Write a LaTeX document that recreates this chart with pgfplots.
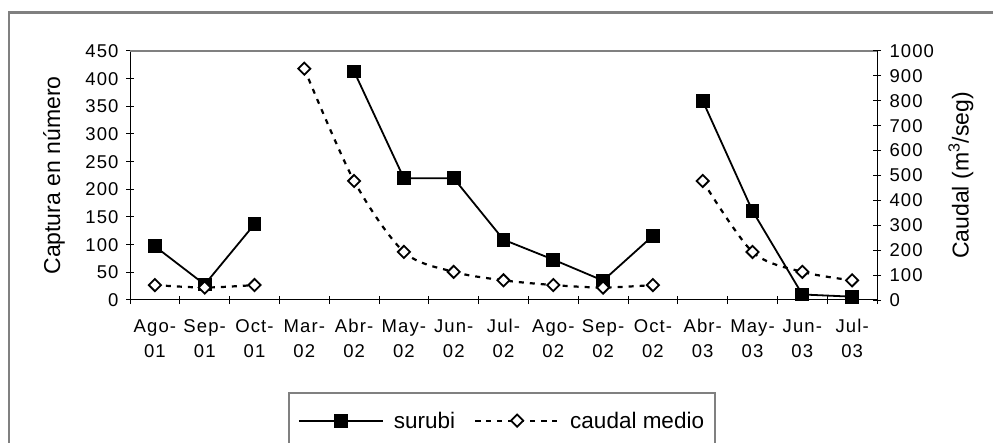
\documentclass[border=0pt]{standalone}
\usepackage{pgfplots}
\pgfplotsset{compat=1.18}
\usepackage{fontspec}
\setmainfont{Liberation Sans}
\newfontfamily\tickfont[LetterSpace=6]{Liberation Sans}
\definecolor{framegray}{RGB}{128,128,128}
\pgfplotsset{
  surubistyle/.style={black, solid, line width=1.8pt, mark=square*, mark size=6pt, mark options={solid, fill=black}},
  caudalstyle/.style={black, line width=2.2pt, dash pattern=on 5pt off 6pt, smooth, tension=0.5,
     mark=square*, mark size=4.3pt, mark options={solid, rotate=45, fill=white, line width=1.8pt}},
  commonaxis/.style={
    at={(130pt,142pt)}, anchor=south west,
    scale only axis, width=747pt, height=249pt,
    xmin=-0.5, xmax=14.5, clip=false,
    tick align=center, major tick length=8pt,
    tick style={black, line width=1pt},
    axis line style={black, line width=1pt, -},
    /pgf/number format/assume math mode=true,
    /pgf/number format/1000 sep={},
    ticklabel style={font=\tickfont\fontsize{18.5}{24}\selectfont},
    label style={font=\fontsize{23}{27}\selectfont},
  },
  legend image code/.code={
    \draw[mark repeat=2, mark phase=2, #1] plot coordinates {(0pt,0pt) (42pt,0pt) (84pt,0pt)};
  },
}
\begin{document}
\begin{tikzpicture}[x=1pt,y=1pt]
\useasboundingbox (0,0) rectangle (993,442);
\draw[framegray, line width=2.5pt] (9,-5) -- (9,429.5) -- (1000,429.5);
\begin{axis}[commonaxis,
  ymin=0, ymax=450,
  axis y line*=left, axis x line*=bottom,
  xtick={-0.5,0.5,1.5,2.5,3.5,4.5,5.5,6.5,7.5,8.5,9.5,10.5,11.5,12.5,13.5,14.5},
  x tick label as interval,
  xticklabels={{Ago-\\[1pt]01},{Sep-\\[1pt]01},{Oct-\\[1pt]01},{Mar-\\[1pt]02},{Abr-\\[1pt]02},{May-\\[1pt]02},{Jun-\\[1pt]02},{Jul-\\[1pt]02},{Ago-\\[1pt]02},{Sep-\\[1pt]02},{Oct-\\[1pt]02},{Abr-\\[1pt]03},{May-\\[1pt]03},{Jun-\\[1pt]03},{Jul-\\[1pt]03}},
  xticklabel style={align=center, yshift=-12pt},
  yticklabel style={xshift=-4pt},
  ytick={0,50,...,450},
  ylabel={Captura en número},
  ylabel style={at={(axis description cs:-0.1017,0.5)}, anchor=center},
]
\draw[framegray, line width=1.5pt] (rel axis cs:0,1) -- (rel axis cs:1,1);
\addplot[surubistyle] coordinates {(0,97) (1,28) (2,137)};
\addplot[surubistyle] coordinates {(4,413) (5,220) (6,220) (7,109) (8,73) (9,35) (10,116)};
\addplot[surubistyle] coordinates {(11,360) (12,161) (13,10) (14,6)};
\end{axis}
\begin{axis}[commonaxis,
  ymin=0, ymax=1000,
  axis y line*=right, axis x line=none,
  ytick={0,100,...,1000},
  yticklabel style={xshift=5pt},
  ylabel={Caudal (m\textsuperscript{3}/seg)},
  ylabel style={at={(axis description cs:1.1124,0.5)}, anchor=center},
  legend columns=2,
  legend style={at={(0.498,-0.3695)}, anchor=north, draw=framegray, line width=1.5pt,
    font=\fontsize{22.5}{26}\selectfont, inner xsep=9pt, inner ysep=17pt,
    /tikz/every even column/.append style={column sep=17pt},
    /tikz/every odd column/.append style={column sep=8pt}},
]
\addlegendimage{surubistyle}
\addlegendentry{surubi}
\addplot[caudalstyle] coordinates {(0,60) (1,50) (2,60)};
\addlegendentry{caudal medio}
\addplot[caudalstyle, forget plot] coordinates {(3,929) (4,478) (5,193) (6,113) (7,79) (8,60) (9,50) (10,60)};
\addplot[caudalstyle, forget plot] coordinates {(11,478) (12,193) (13,113) (14,79)};
\end{axis}
\end{tikzpicture}
\end{document}
